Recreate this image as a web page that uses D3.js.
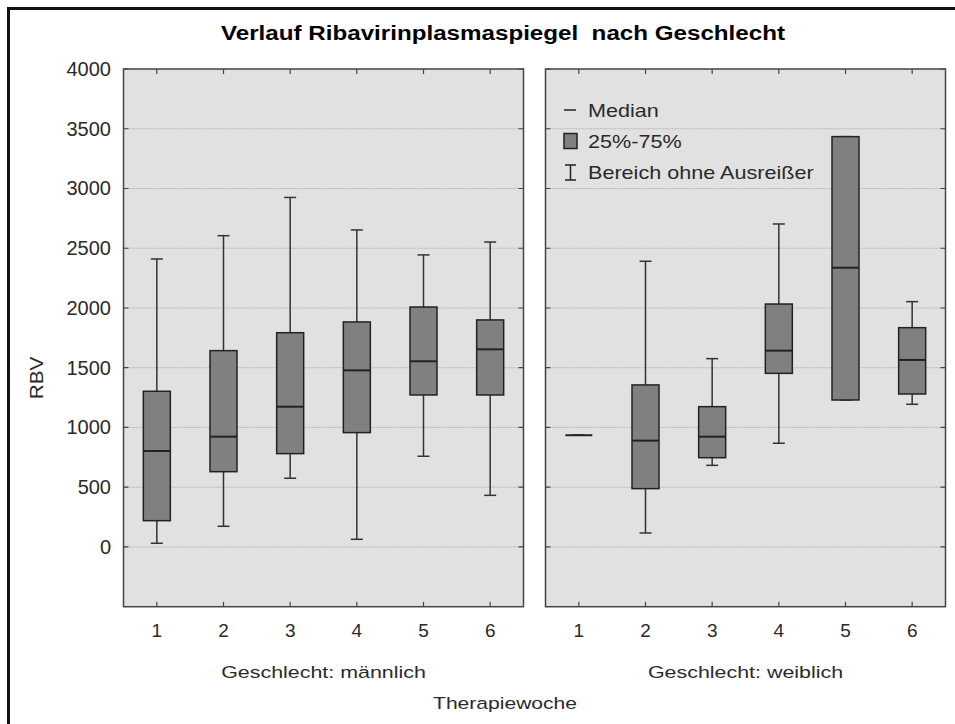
<!DOCTYPE html>
<html>
<head>
<meta charset="utf-8">
<script src="https://cdn.jsdelivr.net/npm/d3@7"></script>
<style>
  html, body { margin: 0; padding: 0; background: #fff; }
  svg { display: block; }
  text { font-family: "Liberation Sans", Arial, sans-serif; }
</style>
</head>
<body>
<svg id="chart" width="955" height="724"></svg>
<script>
// ---------- data ----------
const weeks = ["1", "2", "3", "4", "5", "6"];
const yTicks = [0, 500, 1000, 1500, 2000, 2500, 3000, 3500, 4000];
const panels = ["Geschlecht: männlich", "Geschlecht: weiblich"];

const maleMedian = [803, 923, 1174, 1478, 1554, 1654];
const maleQ1     = [220, 630, 781, 957, 1272, 1272];
const maleQ3     = [1303, 1643, 1793, 1883, 2008, 1900];
const maleMin    = [31, 173, 575, 64, 759, 432];
const maleMax    = [2410, 2605, 2925, 2653, 2444, 2552];

const femMedian = [935, 890, 923, 1643, 2337, 1565];
const femQ1     = [935, 488, 747, 1453, 1230, 1280];
const femQ3     = [935, 1356, 1174, 2033, 3434, 1835];
const femMin    = [935, 117, 683, 868, 1230, 1194];
const femMax    = [935, 2391, 1576, 2703, 3434, 2053];

const legendItems = ["Median", "25%-75%", "Bereich ohne Ausreißer"];

const title = "Verlauf Ribavirinplasmaspiegel  nach Geschlecht";
const yTitle = "RBV";
const xTitle = "Therapiewoche";

// ---------- layout ----------
const svg = d3.select("#chart");
const panelTop = 69, panelBottom = 606.7, panelW = 400;
const panelX = [123.5, 545.5];
const boxW = 27, capW = 12;
const textCol = "#2a2a2a";

const y = d3.scaleLinear().domain([-500, 4000]).range([panelBottom, panelTop]);

// outer frame
svg.append("rect").attr("x", 8.5).attr("y", 8.5).attr("width", 960).attr("height", 730)
  .attr("fill", "none").attr("stroke", "#111").attr("stroke-width", 3);

// title
svg.append("text").attr("x", 503).attr("y", 40).attr("text-anchor", "middle")
  .style("white-space", "pre")
  .attr("font-size", 20).attr("font-weight", "bold").attr("fill", "#000")
  .attr("textLength", 564).attr("lengthAdjust", "spacingAndGlyphs")
  .text(title);

const series = [
  { med: maleMedian, q1: maleQ1, q3: maleQ3, lo: maleMin, hi: maleMax },
  { med: femMedian, q1: femQ1, q3: femQ3, lo: femMin, hi: femMax }
];

panels.forEach((label, pi) => {
  const x0 = panelX[pi];
  const x = d3.scalePoint().domain(weeks).range([x0, x0 + panelW]).padding(0.5);
  const g = svg.append("g");

  g.append("rect").attr("x", x0).attr("y", panelTop).attr("width", panelW)
    .attr("height", panelBottom - panelTop).attr("fill", "#e1e1e1");

  // grid
  g.selectAll(".grid").data(yTicks.filter(t => t < 4000)).join("line")
    .attr("x1", x0).attr("x2", x0 + panelW)
    .attr("y1", d => y(d)).attr("y2", d => y(d))
    .attr("stroke", "#b8b8b8").attr("stroke-width", 1).attr("stroke-dasharray", "2,1");

  // ticks (inside) on all edges
  const tl = 5;
  g.selectAll(".yt").data(yTicks).join("path")
    .attr("d", d => `M${x0},${y(d)}h${tl}M${x0 + panelW},${y(d)}h${-tl}`)
    .attr("stroke", "#444").attr("stroke-width", 1.2);
  g.selectAll(".xt").data(weeks).join("path")
    .attr("d", d => `M${x(d)},${panelBottom}v${-tl}M${x(d)},${panelTop}v${tl}`)
    .attr("stroke", "#444").attr("stroke-width", 1.2);

  // boxes
  const s = series[pi];
  const data = weeks.map((w, i) => ({ w, med: s.med[i], q1: s.q1[i], q3: s.q3[i], lo: s.lo[i], hi: s.hi[i] }));
  const bg = g.selectAll(".box").data(data).join("g");
  bg.append("line").attr("x1", d => x(d.w)).attr("x2", d => x(d.w))
    .attr("y1", d => y(d.hi)).attr("y2", d => y(d.lo))
    .attr("stroke", "#333").attr("stroke-width", 1.5);
  bg.append("line").attr("x1", d => x(d.w) - capW / 2).attr("x2", d => x(d.w) + capW / 2)
    .attr("y1", d => y(d.hi)).attr("y2", d => y(d.hi))
    .attr("stroke", "#333").attr("stroke-width", 1.5);
  bg.append("line").attr("x1", d => x(d.w) - capW / 2).attr("x2", d => x(d.w) + capW / 2)
    .attr("y1", d => y(d.lo)).attr("y2", d => y(d.lo))
    .attr("stroke", "#333").attr("stroke-width", 1.5);
  bg.append("rect").attr("x", d => x(d.w) - boxW / 2).attr("width", boxW)
    .attr("y", d => y(d.q3)).attr("height", d => y(d.q1) - y(d.q3))
    .attr("fill", "#808080").attr("stroke", "#222").attr("stroke-width", 1.5);
  bg.append("line").attr("x1", d => x(d.w) - boxW / 2).attr("x2", d => x(d.w) + boxW / 2)
    .attr("y1", d => y(d.med)).attr("y2", d => y(d.med))
    .attr("stroke", "#222").attr("stroke-width", 2);

  // panel border
  g.append("rect").attr("x", x0).attr("y", panelTop).attr("width", panelW)
    .attr("height", panelBottom - panelTop).attr("fill", "none")
    .attr("stroke", "#444").attr("stroke-width", 1.5);

  // x tick labels
  g.selectAll(".xl").data(weeks).join("text")
    .attr("x", d => x(d)).attr("y", 637).attr("text-anchor", "middle")
    .attr("font-size", 19).attr("fill", textCol).text(d => d);

  // panel label
  g.append("text")
    .attr("transform", `translate(${x0 + panelW / 2},678) scale(1.26,1)`)
    .attr("text-anchor", "middle")
    .attr("font-size", 17).attr("fill", textCol).text(label);
});

// y tick labels
svg.selectAll(".yl").data(yTicks).join("text")
  .attr("x", 111).attr("y", d => y(d) + 7).attr("text-anchor", "end")
  .attr("font-size", 20).attr("fill", textCol).text(d => d);

// y title
svg.append("text").attr("transform", "translate(43,378) rotate(-90) scale(1.15,1)")
  .attr("text-anchor", "middle").attr("font-size", 18).attr("fill", textCol).text(yTitle);

// x title
svg.append("text").attr("transform", "translate(505,709) scale(1.24,1)")
  .attr("text-anchor", "middle").attr("font-size", 17).attr("fill", textCol).text(xTitle);

// legend
const lg = svg.append("g");
const lx = 564, ly = [110, 141, 172];
lg.append("line").attr("x1", lx).attr("x2", lx + 12).attr("y1", ly[0]).attr("y2", ly[0])
  .attr("stroke", "#222").attr("stroke-width", 1.5);
lg.append("rect").attr("x", lx).attr("y", ly[1] - 7.5).attr("width", 13).attr("height", 15)
  .attr("fill", "#808080").attr("stroke", "#222").attr("stroke-width", 1.5);
lg.append("path").attr("d", `M${lx + 1},${ly[2] - 7}h11M${lx + 6.5},${ly[2] - 7}v15M${lx + 1},${ly[2] + 8}h11`)
  .attr("stroke", "#222").attr("stroke-width", 1.5).attr("fill", "none");
lg.selectAll(".lt").data(legendItems).join("text")
  .attr("transform", (d, i) => `translate(588,${ly[i] + 6.5}) scale(1.2,1)`)
  .attr("font-size", 18).attr("fill", textCol).text(d => d);
</script>
</body>
</html>
